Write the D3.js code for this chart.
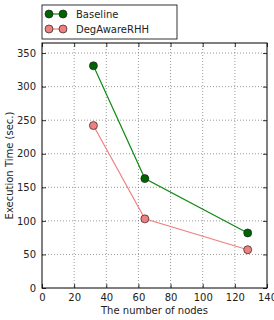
<!DOCTYPE html>
<html>
<head>
<meta charset="utf-8">
<script src="https://cdn.jsdelivr.net/npm/d3@7"></script>
<style>
  body { margin: 0; background: #fff; }
  text { font-family: "DejaVu Sans", sans-serif; }
</style>
</head>
<body>
<div id="chart"></div>
<script>
// Data
const nodes = [32, 64, 128];
const baseline = [331, 163, 82];
const degAware = [242, 103, 57];
const seriesNames = ["Baseline", "DegAwareRHH"];
const xTicks = [0, 20, 40, 60, 80, 100, 120, 140];
const yTicks = [0, 50, 100, 150, 200, 250, 300, 350];

const W = 274, H = 320;
const margin = { top: 43, right: 7, bottom: 32, left: 42 };
const width = W - margin.left - margin.right;
const height = H - margin.top - margin.bottom;

const svg = d3.select("#chart")
  .append("svg")
  .attr("width", W)
  .attr("height", H);

const g = svg.append("g")
  .attr("transform", `translate(${margin.left},${margin.top})`);

const x = d3.scaleLinear().domain([0, 140]).range([0, width]);
const y = d3.scaleLinear().domain([0, 365]).range([height, 0]);

// Grid (dotted)
g.append("g")
  .selectAll("line")
  .data(xTicks.slice(1, -1))
  .enter().append("line")
  .attr("x1", d => x(d)).attr("x2", d => x(d))
  .attr("y1", 0).attr("y2", height)
  .attr("stroke", "#555").attr("stroke-width", 0.6)
  .attr("stroke-dasharray", "1,2");

g.append("g")
  .selectAll("line")
  .data(yTicks.slice(1))
  .enter().append("line")
  .attr("x1", 0).attr("x2", width)
  .attr("y1", d => y(d)).attr("y2", d => y(d))
  .attr("stroke", "#555").attr("stroke-width", 0.6)
  .attr("stroke-dasharray", "1,2");

// Axes (ticks inward, on all sides)
const axB = g.append("g")
  .attr("transform", `translate(0,${height})`)
  .call(d3.axisBottom(x).tickValues(xTicks).tickSizeInner(-4).tickSizeOuter(0).tickPadding(6));
const axT = g.append("g")
  .call(d3.axisTop(x).tickValues(xTicks).tickSizeInner(-4).tickSizeOuter(0).tickFormat(""));
const axL = g.append("g")
  .call(d3.axisLeft(y).tickValues(yTicks).tickSizeInner(-4).tickSizeOuter(0).tickPadding(6));
const axR = g.append("g")
  .attr("transform", `translate(${width},0)`)
  .call(d3.axisRight(y).tickValues(yTicks).tickSizeInner(-4).tickSizeOuter(0).tickFormat(""));

[axB, axT, axL, axR].forEach(a => {
  a.select(".domain").remove();
  a.selectAll("text").attr("font-size", 10).attr("fill", "#222");
  a.selectAll("line").attr("stroke", "#000").attr("stroke-width", 0.8);
});

// Frame
g.append("rect")
  .attr("width", width).attr("height", height)
  .attr("fill", "none").attr("stroke", "#000").attr("stroke-width", 1);

// Series
const series = [
  { name: seriesNames[0], values: baseline, line: "#0f8a0f", fill: "#006400" },
  { name: seriesNames[1], values: degAware, line: "#f08080", fill: "#f08080" }
];

const line = d3.line().x(d => x(d[0])).y(d => y(d[1]));

series.forEach(s => {
  const pts = nodes.map((n, i) => [n, s.values[i]]);
  g.append("path")
    .datum(pts)
    .attr("fill", "none")
    .attr("stroke", s.line)
    .attr("stroke-width", 1.2)
    .attr("d", line);
  g.selectAll(null)
    .data(pts)
    .enter().append("circle")
    .attr("cx", d => x(d[0]))
    .attr("cy", d => y(d[1]))
    .attr("r", 4)
    .attr("fill", s.fill)
    .attr("stroke", "#222")
    .attr("stroke-width", 0.7);
});

// Legend
const leg = svg.append("g").attr("transform", "translate(42,5)");
leg.append("rect")
  .attr("width", 135).attr("height", 34)
  .attr("fill", "#fff").attr("stroke", "#000").attr("stroke-width", 0.8);
series.forEach((s, i) => {
  const ly = 9 + i * 15;
  leg.append("line")
    .attr("x1", 7).attr("x2", 21).attr("y1", ly).attr("y2", ly)
    .attr("stroke", s.line).attr("stroke-width", 1.2);
  [7, 21].forEach(cx => {
    leg.append("circle")
      .attr("cx", cx).attr("cy", ly).attr("r", 4)
      .attr("fill", s.fill).attr("stroke", "#222").attr("stroke-width", 0.7);
  });
  leg.append("text")
    .attr("x", 34).attr("y", ly + 3.5)
    .attr("font-size", 10).attr("fill", "#222")
    .text(s.name);
});

// Axis labels
svg.append("text")
  .attr("x", margin.left + width / 2)
  .attr("y", 314)
  .attr("text-anchor", "middle")
  .attr("font-size", 10).attr("fill", "#222")
  .text("The number of nodes");

svg.append("text")
  .attr("transform", "rotate(-90)")
  .attr("x", -(margin.top + height / 2))
  .attr("y", 13)
  .attr("text-anchor", "middle")
  .attr("font-size", 10).attr("fill", "#222")
  .text("Execution Time (sec.)");
</script>
</body>
</html>
